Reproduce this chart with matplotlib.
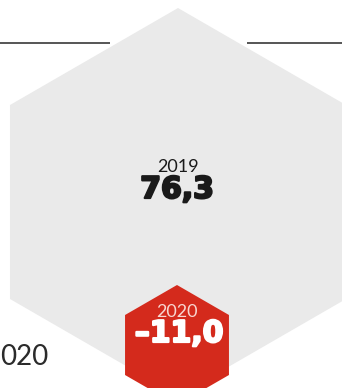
import matplotlib
matplotlib.use("Agg")
import matplotlib.pyplot as plt
import matplotlib.patheffects as pe
from matplotlib.patches import RegularPolygon

# data
years = ["2019", "2020"]
values = ["76,3", "-11,0"]
side_label = "020"  # only the tail of "2020" is visible at the left edge

W, H = 342, 388
colors = {
    "bg": "white",
    "hex": "#eaeaea",
    "badge": "#d42a1c",
    "dark": "#1a1a1a",
    "line": "#555555",
    "side": "#2b2b2b",
    "badge_year": "#f8d6d0",
}

fig = plt.figure(figsize=(W / 100, H / 100), dpi=100)
ax = fig.add_axes([0, 0, 1, 1])
ax.set_xlim(0, W)
ax.set_ylim(H, 0)
ax.axis("off")
fig.patch.set_facecolor(colors["bg"])

# rule lines at the top, broken by the big hexagon
ax.plot([0, 110], [43, 43], color=colors["line"], lw=1.4, solid_capstyle="butt")
ax.plot([247, W], [43, 43], color=colors["line"], lw=1.4, solid_capstyle="butt")

# big grey hexagon (2019)
ax.add_patch(RegularPolygon((178, 202), numVertices=6, radius=194,
                            facecolor=colors["hex"], edgecolor="none"))
# small red hexagon (2020)
ax.add_patch(RegularPolygon((177, 345), numVertices=6, radius=60,
                            facecolor=colors["badge"], edgecolor="none"))

ax.text(178, 172, years[0], ha="center", va="baseline", fontsize=13,
        family="Lato", fontweight="normal", color=colors["dark"])
ax.text(177, 198, values[0], ha="center", va="baseline", fontsize=21.5,
        family="DejaVu Sans", fontweight="bold", color=colors["dark"],
        path_effects=[pe.withStroke(linewidth=1.6, foreground=colors["dark"])])

ax.text(177, 317, years[1], ha="center", va="baseline", fontsize=13,
        family="Lato", fontweight="normal", color=colors["badge_year"])
ax.text(179, 342, values[1].replace("-", "\u2013"), ha="center", va="baseline",
        fontsize=21.5, family="DejaVu Sans", fontweight="bold", color="white",
        path_effects=[pe.withStroke(linewidth=1.6, foreground="white")])

# tail of the label on the left edge
ax.text(0, 365, side_label, ha="left", va="baseline", fontsize=20,
        family="Lato", fontweight="normal", color=colors["side"])

fig.savefig("out.png", dpi=100)
plt.close(fig)
